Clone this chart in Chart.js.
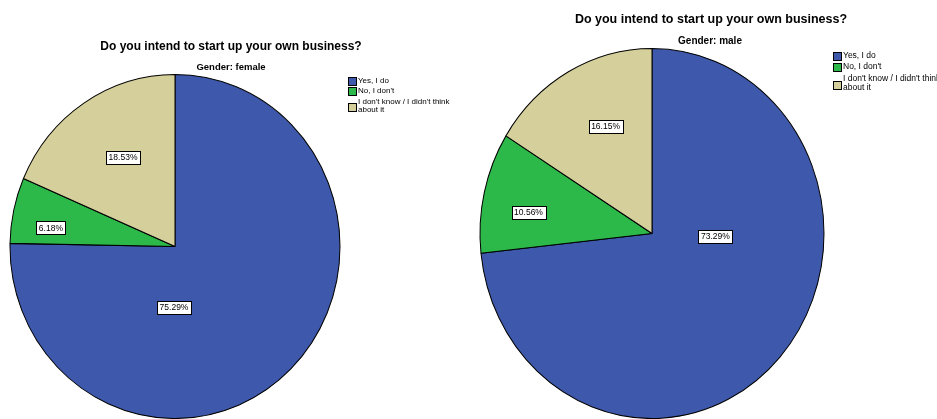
<!DOCTYPE html>
<html>
<head>
<meta charset="utf-8">
<script src="https://cdn.jsdelivr.net/npm/chart.js@4.4.1/dist/chart.umd.min.js"></script>
<style>
  body { margin: 0; background: #fff; width: 937px; height: 419px; overflow: hidden; position: relative; }
  .pane { position: absolute; top: 0; height: 419px; }
</style>
</head>
<body>
<div class="pane" style="left:0;width:470px"><canvas id="pie_female"></canvas></div>
<div class="pane" style="left:470px;width:467px"><canvas id="pie_male"></canvas></div>
<script>
// data
var categories = ["Yes, I do", "No, I don't", "I don't know / I didn't think about it"];
var female = [75.29, 6.18, 18.53];
var male = [73.29, 10.56, 16.15];
var sliceColors = ["#3e58ab", "#2db84a", "#d4cf9b"];
var chartTitle = "Do you intend to start up your own business?";

// draws the slices a bit taller than wide, then the boxed % labels, titles and legend
var spssPie = {
  id: 'spssPie',
  beforeDatasetsDraw: function (chart, args, o) {
    var arc = chart.getDatasetMeta(0).data[0];
    var ctx = chart.ctx;
    ctx.save();
    ctx.translate(arc.x, arc.y);
    ctx.scale(1, o.stretch);
    ctx.translate(-arc.x, -arc.y);
  },
  afterDatasetsDraw: function (chart, args, o) {
    var ctx = chart.ctx;
    ctx.restore();
    var arc = chart.getDatasetMeta(0).data[0];
    var rx = arc.outerRadius, ry = arc.outerRadius * o.stretch;
    var vals = chart.data.datasets[0].data;

    // percentage labels
    ctx.save();
    ctx.font = o.labelFont + 'px Arial, "Liberation Sans", sans-serif';
    ctx.textAlign = 'center';
    ctx.textBaseline = 'middle';
    vals.forEach(function (v, i) {
      var t = v.toFixed(2) + '%';
      var x = arc.x + o.labelAt[i][0] * rx;
      var y = arc.y + o.labelAt[i][1] * ry;
      var w = Math.round(ctx.measureText(t).width) + 5, h = 13;
      var bx = Math.round(x - w / 2) + 0.5, by = Math.round(y - h / 2) + 0.5;
      ctx.fillStyle = '#fff';
      ctx.fillRect(bx, by, w, h);
      ctx.strokeStyle = '#000';
      ctx.lineWidth = 1;
      ctx.strokeRect(bx, by, w, h);
      ctx.fillStyle = '#000';
      ctx.fillText(t, x, y + 0.5);
    });
    ctx.restore();

    // titles
    ctx.save();
    ctx.fillStyle = '#000';
    ctx.textAlign = 'center';
    ctx.textBaseline = 'middle';
    ctx.font = 'bold ' + o.titleFont + 'px Arial, "Liberation Sans", sans-serif';
    ctx.fillText(chartTitle, o.title[0], o.title[1]);
    ctx.font = 'bold ' + o.subFont + 'px Arial, "Liberation Sans", sans-serif';
    ctx.fillText(o.subtitle, o.sub[0], o.sub[1]);
    ctx.restore();

    // legend
    ctx.save();
    ctx.font = o.legendFont + 'px Arial, "Liberation Sans", sans-serif';
    ctx.textBaseline = 'middle';
    var y = o.legend[1];
    chart.data.labels.forEach(function (lab, i) {
      var words = lab.split(' '), lines = [], cur = '';
      words.forEach(function (wd) {
        var test = cur ? cur + ' ' + wd : wd;
        if (ctx.measureText(test).width > o.legendWrap && cur) { lines.push(cur); cur = wd; }
        else cur = test;
      });
      lines.push(cur);
      if (lines.length > 1) y += 1;
      var mid = y + (lines.length - 1) * o.legendLine / 2;
      ctx.fillStyle = sliceColors[i];
      ctx.fillRect(o.legend[0] + 0.5, Math.round(mid - 4) + 0.5, 8, 8);
      ctx.strokeStyle = '#000';
      ctx.lineWidth = 1;
      ctx.strokeRect(o.legend[0] + 0.5, Math.round(mid - 4) + 0.5, 8, 8);
      ctx.fillStyle = '#000';
      lines.forEach(function (ln, j) {
        ctx.fillText(ln, o.legend[0] + 10, y + j * (o.legendLine - 2));
      });
      y += o.legendLine * lines.length;
    });
    ctx.restore();
  }
};

function makePie(id, values, opts, padding, radius) {
  return new Chart(document.getElementById(id), {
    type: 'pie',
    data: {
      labels: categories,
      datasets: [{
        data: values,
        backgroundColor: sliceColors,
        borderColor: '#000',
        borderWidth: 1,
        clip: false
      }]
    },
    options: {
      responsive: true,
      maintainAspectRatio: false,
      animation: false,
      radius: radius,
      layout: { padding: padding },
      plugins: {
        legend: { display: false },
        tooltip: { enabled: false },
        spssPie: opts
      }
    },
    plugins: [spssPie]
  });
}

// gender: female
makePie('pie_female', female, {
  stretch: 172 / 165,
  subtitle: 'Gender: female',
  title: [231, 47], sub: [231, 67],
  titleFont: 12, subFont: 9.5,
  labelFont: 8.5,
  labelAt: [[-0.006, 0.352], [-0.752, -0.108], [-0.315, -0.517]],
  legend: [348, 81], legendFont: 8, legendLine: 10, legendWrap: 95
}, { left: 10, right: 130, top: 81, bottom: 7 }, 165);

// gender: male
makePie('pie_male', male, {
  stretch: 185 / 172,
  subtitle: 'Gender: male',
  title: [241, 20], sub: [240, 41],
  titleFont: 12.5, subFont: 10,
  labelFont: 8.5,
  labelAt: [[0.369, 0.014], [-0.718, -0.114], [-0.270, -0.581]],
  legend: [363, 56], legendFont: 8.5, legendLine: 11, legendWrap: 102
}, { left: 10, right: 113, top: 61, bottom: 13 }, 172);
</script>
</body>
</html>
